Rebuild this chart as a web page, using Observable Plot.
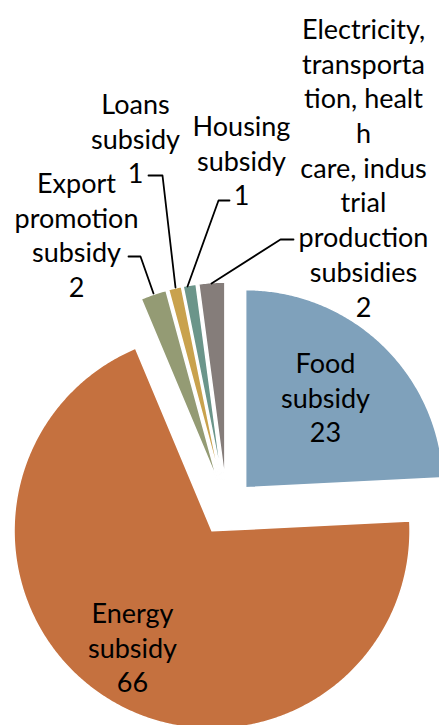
<!DOCTYPE html>
<html>
<head>
<meta charset="utf-8">
<script src="https://cdn.jsdelivr.net/npm/d3@7"></script>
<script src="https://cdn.jsdelivr.net/npm/@observablehq/plot@0.6"></script>
<style>
  html, body { margin: 0; padding: 0; background: #fff; }
  #chart svg { display: block; }
</style>
</head>
<body>
<div id="chart"></div>
<script>
// ---- data ----
const categories = [
  "Food subsidy",
  "Energy subsidy",
  "Export promotion subsidy",
  "Loans subsidy",
  "Housing subsidy",
  "Electricity, transportation, health care, industrial production subsidies"
];
const values = [23, 66, 2, 1, 1, 2];
// label text as wrapped in the reference
const labelLines = [
  ["Food", "subsidy"],
  ["Energy", "subsidy"],
  ["Export", "promotion", "subsidy"],
  ["Loans", "subsidy"],
  ["Housing", "subsidy"],
  ["Electricity,", "transporta", "tion, healt", "h", "care, indus", "trial", "production", "subsidies"]
];
const sliceColors = ["#7fa1bb", "#c5713f", "#949b74", "#c9a24d", "#6b958a", "#857d7a"];

// ---- layout ----
const W = 439, H = 725;
const center = {x: 226.2, y: 507.1};
const radius = 198;
const explode = 27.5;
const fontSize = 27;
const lineH = 34.7;
// label block: centre x, baseline of first line
const labelPos = [
  {x: 325, y: 367},
  {x: 132, y: 617},
  {x: 76, y: 187},
  {x: 135, y: 108},
  {x: 241, y: 130},
  {x: 363, y: 33}
];
// leader lines (label end -> elbow -> slice)
const leaders = [
  null,
  null,
  [[128, 256], [140, 256], [153, 293]],
  [[148, 175], [162, 175], [175, 287]],
  [[229, 200], [218, 200], [187, 286]],
  [[293, 239], [280, 239], [211, 283]]
];

// ---- build slices via d3.pie ----
const pie = d3.pie().sort(null).value(d => d.value).startAngle(0).endAngle(2 * Math.PI);
const table = categories.map((c, i) => ({name: c, value: values[i]}));
const arcs = pie(table);
const pts = [];
arcs.forEach(a => {
  const mid = (a.startAngle + a.endAngle) / 2;
  const cx = center.x + explode * Math.sin(mid);
  const cy = center.y - explode * Math.cos(mid);
  pts.push({name: a.data.name, x: cx, y: cy});
  const n = Math.max(2, Math.ceil((a.endAngle - a.startAngle) / (Math.PI / 360)));
  for (let k = 0; k <= n; k++) {
    const t = a.startAngle + (a.endAngle - a.startAngle) * k / n;
    pts.push({name: a.data.name, x: cx + radius * Math.sin(t), y: cy - radius * Math.cos(t)});
  }
});

const labels = categories.map((c, i) => ({
  name: c,
  text: labelLines[i].join("\n") + "\n" + values[i],
  x: labelPos[i].x,
  y: labelPos[i].y - 0.71 * fontSize
}));

const leaderPts = [];
leaders.forEach((l, i) => {
  if (!l) return;
  l.forEach(p => leaderPts.push({name: categories[i], x: p[0], y: p[1]}));
});

const chart = Plot.plot({
  width: W,
  height: H,
  margin: 0,
  style: {fontFamily: "Lato, 'Open Sans', sans-serif", background: "#fff"},
  x: {domain: [0, W], range: [0, W], axis: null},
  y: {domain: [0, H], range: [0, H], axis: null},
  color: {domain: categories, range: sliceColors},
  marks: [
    Plot.line(pts, {x: "x", y: "y", z: "name", fill: "name", stroke: "white", strokeWidth: 1.5, curve: "linear-closed"}),
    Plot.line(leaderPts, {x: "x", y: "y", z: "name", stroke: "black", strokeWidth: 1.8}),
    Plot.text(labels, {x: "x", y: "y", text: "text", fontSize: fontSize, lineHeight: lineH / fontSize, lineAnchor: "top", textAnchor: "middle", fill: "black"})
  ]
});
document.getElementById("chart").appendChild(chart);
</script>
</body>
</html>
